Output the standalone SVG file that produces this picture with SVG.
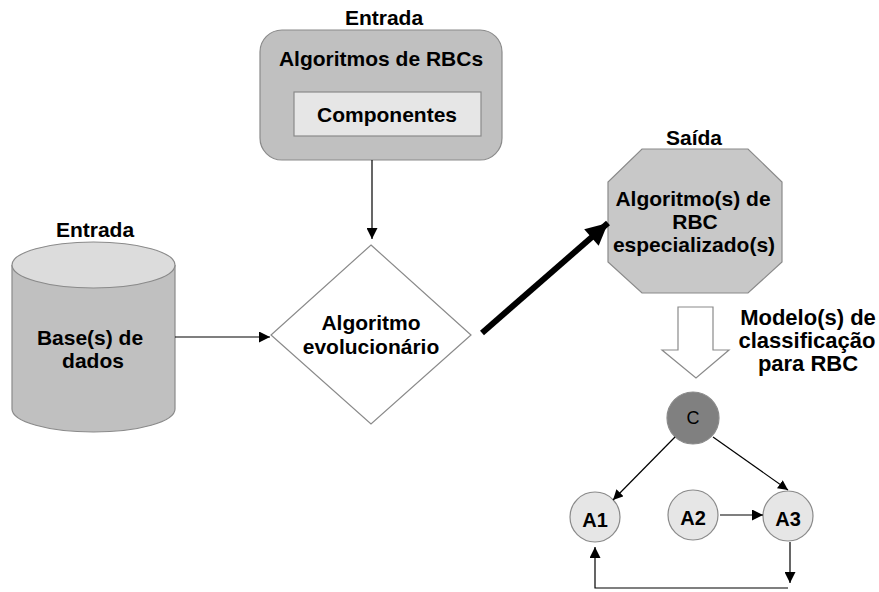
<svg xmlns="http://www.w3.org/2000/svg" width="879" height="592" viewBox="0 0 879 592">
<style>
text{font-family:"Liberation Sans",Arial,sans-serif;font-weight:bold;fill:#000;text-anchor:middle;font-size:21px}
.m{font-size:22px}
.n{font-size:20px}
.edge{stroke:#000;stroke-width:1.2;fill:none}
.sh{stroke:#8a8a8a;stroke-width:1.2}
</style>
<defs>
<marker id="ah" viewBox="0 0 10 10" refX="10" refY="5" markerWidth="10" markerHeight="10" markerUnits="userSpaceOnUse" orient="auto">
<path d="M0,0 L10,5 L0,10 z" fill="#000"/>
</marker>
<marker id="ah2" viewBox="0 0 10 10" refX="10" refY="5" markerWidth="17" markerHeight="11" markerUnits="userSpaceOnUse" orient="auto">
<path d="M0,0 L10,5 L0,10 z" fill="#000"/>
</marker>
<marker id="big" viewBox="0 0 10 10" refX="10" refY="5" markerWidth="28" markerHeight="22" markerUnits="userSpaceOnUse" orient="auto">
<path d="M0,0 L10,5 L0,10 z" fill="#000"/>
</marker>
</defs>

<g id="algoritmos">
<text x="384" y="25">Entrada</text>
<rect class="sh" x="260" y="30" width="242" height="130" rx="22" fill="#c0c0c0"/>
<text x="381" y="66">Algoritmos de RBCs</text>
<rect class="sh" x="294" y="92" width="187" height="44" fill="#e6e6e6"/>
<text x="387" y="122">Componentes</text>
</g>

<g id="base">
<text x="95" y="237">Entrada</text>
<path class="sh" d="M12,265 L12,409 A81.5,23 0 0 0 175,409 L175,265" fill="#c0c0c0"/>
<ellipse class="sh" cx="93.5" cy="265" rx="81.5" ry="23" fill="#dcdcdc"/>
<text x="90" y="345">Base(s) de</text>
<text x="93" y="368">dados</text>
</g>

<g id="evolucionario">
<polygon class="sh" points="371,245 471,335 371,424 271,335" fill="#fff"/>
<text x="371" y="330">Algoritmo</text>
<text x="371" y="354">evolucionário</text>
</g>

<g id="saida">
<text x="694" y="145">Saída</text>
<polygon class="sh" points="642,149 748,149 782,182 782,262 748,293 642,293 608,262 608,182" fill="#c8c8c8"/>
<text x="693" y="206">Algoritmo(s) de</text>
<text x="695" y="229">RBC</text>
<text x="694" y="252">especializado(s)</text>
</g>

<g id="modelo">
<path class="sh" d="M678,307 L713,307 L713,350 L729,350 L696,378 L662,350 L678,350 Z" fill="#fff"/>
<text class="m" x="808" y="325">Modelo(s) de</text>
<text class="m" x="807" y="348">classificação</text>
<text class="m" x="808" y="371">para RBC</text>
</g>

<g id="C">
<circle class="sh" cx="693" cy="418" r="26" fill="#808080"/>
<text x="693" y="424" style="font-size:18px;font-weight:normal">C</text>
</g>
<g id="A1">
<circle class="sh" cx="595" cy="517" r="25" fill="#e6e6e6"/>
<text class="n" x="595" y="527">A1</text>
</g>
<g id="A2">
<circle class="sh" cx="693" cy="515" r="25" fill="#e6e6e6"/>
<text class="n" x="693" y="525">A2</text>
</g>
<g id="A3">
<circle class="sh" cx="788" cy="516" r="25" fill="#e6e6e6"/>
<text class="n" x="788" y="526">A3</text>
</g>

<g id="connectors">
<line class="edge" x1="372" y1="160" x2="372" y2="239" marker-end="url(#ah2)"/>
<line class="edge" x1="175" y1="337" x2="270" y2="337" marker-end="url(#ah2)"/>
<line x1="482" y1="333" x2="608" y2="223" stroke="#000" stroke-width="6" marker-end="url(#big)"/>
<line class="edge" x1="675" y1="437" x2="613" y2="500" marker-end="url(#ah)"/>
<line class="edge" x1="713" y1="437" x2="788" y2="490" marker-end="url(#ah)"/>
<line class="edge" x1="720" y1="515" x2="763" y2="515" marker-end="url(#ah2)"/>
<line class="edge" x1="790" y1="542" x2="790" y2="583" marker-end="url(#ah2)"/>
<polyline class="edge" points="788,588 595,588 595,547" marker-end="url(#ah2)"/>
</g>
</svg>
